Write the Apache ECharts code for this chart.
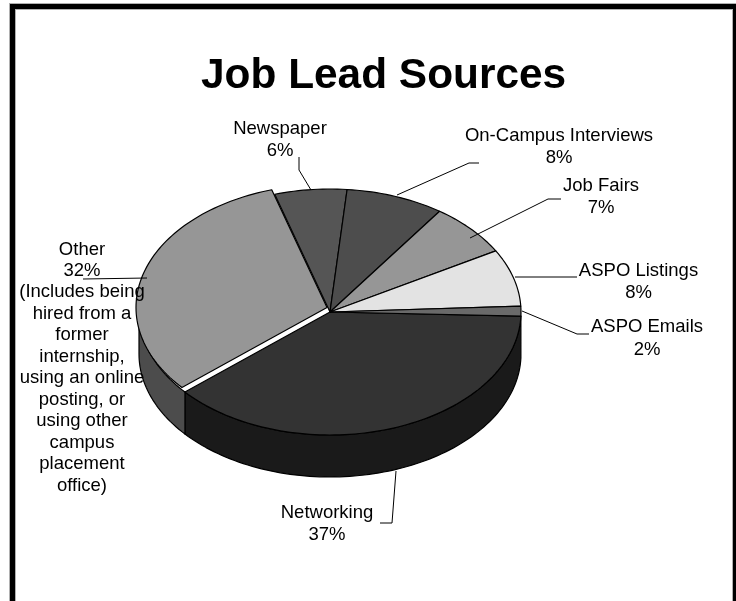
<!DOCTYPE html>
<html><head><meta charset="utf-8">
<style>html,body{margin:0;padding:0;background:#fff}#c{width:736px;height:601px}</style>
<script src="https://cdn.jsdelivr.net/npm/echarts@6/dist/echarts.min.js"></script>
</head><body><div id="c"></div>
<script>
// Data, in drawing order clockwise from the ASPO Emails / Networking boundary
const categories = ['Networking','Other','Newspaper','On-Campus Interviews','Job Fairs','ASPO Listings','ASPO Emails'];
const sliceShares = [38.2, 31.6, 6.1, 8.3, 7.0, 7.5, 1.3];   // slice sizes as measured on the picture
const printedPercents = ['37%','32%','6%','8%','7%','8%','2%'];
const otherNote = ['(Includes being','hired from a','former','internship,','using an online','posting, or','using other','campus','placement','office)'];

// Styles and layout
const topColors  = ['#333333','#969696','#555555','#4d4d4d','#969696','#e3e3e3','#6a6a6a'];
const sideColors = ['#1a1a1a','#4c4c4c','#2a2a2a','#262626','#4c4c4c','#717171','#333333'];
const CX = 330, CY = 312, RX = 191, RY = 123, DEPTH = 42, START_DEG = 1.9;
const explode = {1: [-3, -4.5]};
const labelPos = [[327,513],[82,249.5],[280,129],[559,136],[601,186],[638.5,271],[647,327]];
const lineGap = [22,21.45,22,22,22,21.5,22.5];
const leaders = [
  [[380,523],[392,523],[396,471]],
  [[83,279],[147,278]],
  [[299,157],[299,170],[311,190]],
  [[479,163],[469,163],[397,195]],
  [[561,199],[548,199],[470,238]],
  [[577,277],[515,277]],
  [[589,334],[577,334],[522,311]]
];

const total = sliceShares.reduce((a,b)=>a+b,0);
const angles = []; let acc = START_DEG;
sliceShares.forEach(v=>{const s=acc; acc+=v/total*360; angles.push([s,acc]);});
const rad = d=>d*Math.PI/180;
function arc(cx,cy,a,b){const n=Math.max(2,Math.ceil(Math.abs(b-a)/1.5)),p=[];
  for(let i=0;i<=n;i++){const t=rad(a+(b-a)*i/n);p.push([cx+RX*Math.cos(t),cy+RY*Math.sin(t)]);}return p;}
const lineStyle={stroke:'#000',lineWidth:1.2,lineJoin:'round'};
function sideItem(params,api){
  const i=api.value(0);const [a,b]=angles[i];
  const s=Math.max(a,0),e=Math.min(b,180);
  if(e<=s)return {type:'group',children:[]};
  const top=arc(CX,CY,s,e),bot=arc(CX,CY+DEPTH,e,s);
  return {type:'polygon',shape:{points:top.concat(bot)},style:Object.assign({fill:sideColors[i]},lineStyle)};
}
function topItem(params,api){
  const i=api.value(0);const [a,b]=angles[i];const o=explode[i]||[0,0];
  const cx=CX+o[0],cy=CY+o[1];
  return {type:'polygon',shape:{points:[[cx,cy]].concat(arc(cx,cy,a,b))},style:Object.assign({fill:topColors[i]},lineStyle)};
}
const frame={x:12.5,y:6.5,width:723,height:640};
const graphic=[
  {type:'rect',shape:frame,style:{fill:'none',stroke:'#b0b0b0',lineWidth:7},silent:true,z:99},
  {type:'rect',shape:frame,style:{fill:'none',stroke:'#000',lineWidth:5},silent:true,z:100}
];
leaders.forEach(pts=>graphic.push({type:'polyline',shape:{points:pts},style:{fill:'none',stroke:'#000',lineWidth:1},z:50}));
categories.forEach((c,i)=>{
  const lines=[c,printedPercents[i]].concat(i===1?otherNote:[]);
  lines.forEach((t,k)=>graphic.push({type:'text',x:labelPos[i][0],y:labelPos[i][1]+k*lineGap[i],z:60,
    style:{text:t,fill:'#000',font:'18.5px "Liberation Sans"',textAlign:'center',textVerticalAlign:'middle'}}));
});
const idx=categories.map((c,i)=>[i,sliceShares[i]]);
const chart=echarts.init(document.getElementById('c'),null,{renderer:'canvas'});
chart.setOption({
  animation:false,backgroundColor:'#fff',
  title:{text:'Job Lead Sources',left:201,top:55,padding:0,textStyle:{fontFamily:'Liberation Sans',fontWeight:'bold',fontSize:42.4,color:'#000'}},
  series:[
    {type:'custom',coordinateSystem:'none',renderItem:sideItem,data:idx,z:1,silent:true},
    {type:'custom',coordinateSystem:'none',renderItem:topItem,data:idx,z:2,silent:true}
  ],
  graphic:graphic
});
</script></body></html>
